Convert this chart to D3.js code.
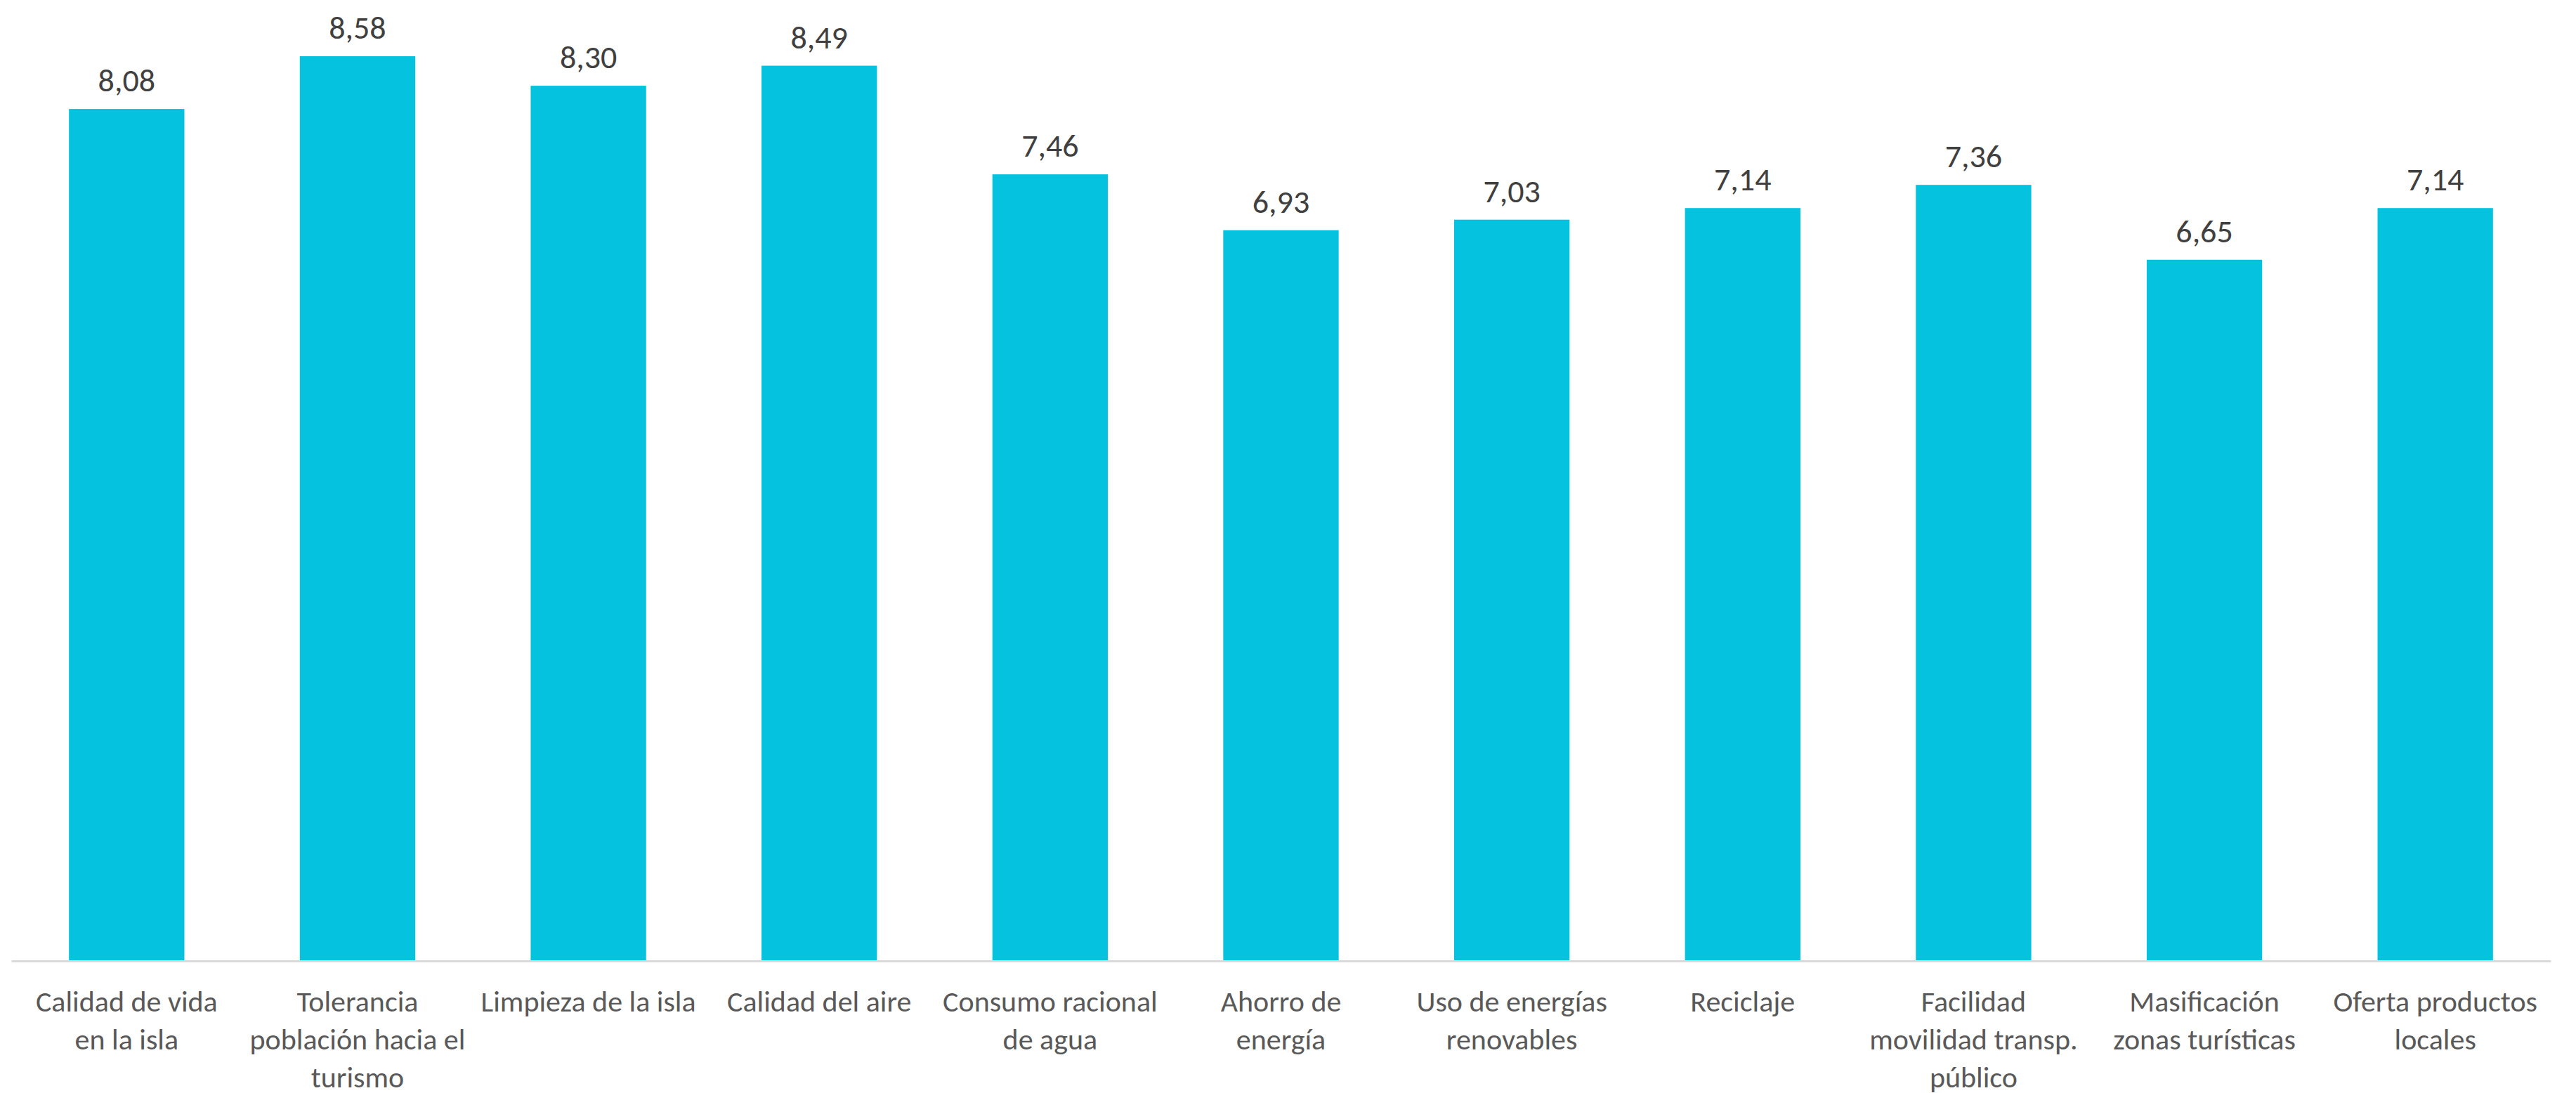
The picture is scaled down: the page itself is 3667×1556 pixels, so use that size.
<!DOCTYPE html>
<html>
<head>
<meta charset="utf-8">
<script src="https://cdn.jsdelivr.net/npm/d3@7"></script>
<style>
  html, body { margin: 0; padding: 0; background: #fff; }
  svg { display: block; }
</style>
</head>
<body>
<div id="chart"></div>
<script>
// Categories (line breaks as in the original chart)
const categories = [
  "Calidad de vida\nen la isla",
  "Tolerancia\npoblación hacia el\nturismo",
  "Limpieza de la isla",
  "Calidad del aire",
  "Consumo racional\nde agua",
  "Ahorro de\nenergía",
  "Uso de energías\nrenovables",
  "Reciclaje",
  "Facilidad\nmovilidad transp.\npúblico",
  "Masificación\nzonas turísticas",
  "Oferta productos\nlocales"
];
const values = [8.08, 8.58, 8.30, 8.49, 7.46, 6.93, 7.03, 7.14, 7.36, 6.65, 7.14];

const width = 3667, height = 1556;
const margin = {top: 17, right: 36, bottom: 188, left: 16};
const baseY = height - margin.bottom;

const fontFamily = "Carlito, Calibri, Lato, 'Open Sans', sans-serif";

const svg = d3.select("#chart").append("svg")
  .attr("width", width)
  .attr("height", height)
  .attr("viewBox", [0, 0, width, height]);

// x band scale, bars take half the band
const x = d3.scaleBand()
  .domain(d3.range(categories.length))
  .range([margin.left, width - margin.right])
  .paddingInner(0.5)
  .paddingOuter(0.25);

const y = d3.scaleLinear([0, 9], [baseY, margin.top]);

// Bars
svg.selectAll(".bar")
  .data(values)
  .enter()
  .append("rect")
    .attr("class", "bar")
    .attr("x", (d, i) => x(i))
    .attr("width", x.bandwidth())
    .attr("y", d => y(d))
    .attr("height", d => baseY - y(d))
    .attr("fill", "#05C3DE");

// Axis line
const xAxis = svg.append("g")
  .attr("transform", `translate(0,${baseY})`)
  .call(d3.axisBottom(x).tickSize(0).tickFormat(""));
xAxis.select(".domain")
  .attr("stroke", "#d9d9d9")
  .attr("stroke-width", 3);

// Value labels
svg.selectAll(".value")
  .data(values)
  .enter()
  .append("text")
    .attr("class", "value")
    .attr("x", (d, i) => x(i) + x.bandwidth() / 2)
    .attr("y", d => y(d) - 25)
    .attr("text-anchor", "middle")
    .attr("font-family", fontFamily)
    .attr("font-size", 46)
    .attr("fill", "#404040")
    .text(d => d.toFixed(2).replace(".", ","));

// Category labels
const labels = svg.selectAll(".cat")
  .data(categories)
  .enter()
  .append("text")
    .attr("class", "cat")
    .attr("text-anchor", "middle")
    .attr("font-family", fontFamily)
    .attr("font-size", 42)
    .attr("fill", "#595959")
    .attr("transform", (d, i) => `translate(${x(i) + x.bandwidth() / 2},${baseY + 72})`);

labels.selectAll("tspan")
  .data(d => d.split("\n"))
  .enter()
  .append("tspan")
    .attr("x", 0)
    .attr("y", (d, i) => i * 54)
    .text(d => d);
</script>
</body>
</html>
